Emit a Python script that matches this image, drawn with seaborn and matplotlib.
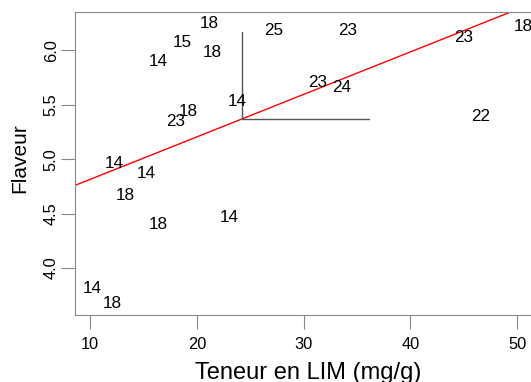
import numpy as np
import pandas as pd
import matplotlib
matplotlib.use("Agg")
import matplotlib.pyplot as plt
import seaborn as sns

# LIM content (mg/g), flavour score and the label printed at each sample
lim = [21.17, 18.61, 21.43, 16.41, 23.74, 19.23, 17.98, 12.25, 15.26, 13.29,
       16.36, 23.05, 10.22, 12.09, 27.21, 34.07, 45.02, 50.61, 31.34, 33.54, 46.59]
flaveur = [6.246, 6.076, 5.979, 5.896, 5.533, 5.436, 5.343, 4.965, 4.866, 4.666,
           4.403, 4.464, 3.813, 3.675, 6.184, 6.178, 6.117, 6.215, 5.702, 5.656, 5.389]
etiquettes = ["18", "15", "18", "14", "14", "18", "23", "14", "14", "18",
              "18", "14", "14", "18", "25", "23", "23", "18", "23", "24", "22"]

x_ticks = [10, 20, 30, 40, 50]
y_ticks = [4.0, 4.5, 5.0, 5.5, 6.0]
y_ticklabels = ["4.0", "4.5", "5.0", "5.5", "6.0"]

df = pd.DataFrame({"lim": lim, "flaveur": flaveur, "lab": etiquettes})

sns.set_style("white")
plt.rcParams["font.family"] = ["Liberation Sans", "DejaVu Sans"]
plt.rcParams["text.color"] = "black"
plt.rcParams["axes.labelcolor"] = "black"

fig = plt.figure(figsize=(5.31, 3.82), dpi=100)
ax = fig.add_axes([0.1418, 0.1762, 0.877, 0.7916])

# R-style 4% padding around the data range
xr = max(lim) - min(lim)
yr = max(flaveur) - min(flaveur)
xlim = (min(lim) - 0.04 * xr, max(lim) + 0.04 * xr)
ylim = (min(flaveur) - 0.04 * yr, max(flaveur) + 0.04 * yr)
ax.set_xlim(xlim)
ax.set_ylim(ylim)

# least-squares line across the full plotting range
sns.regplot(data=df, x="lim", y="flaveur", scatter=False, ci=None, truncate=False,
            color="red", line_kws={"lw": 1.0}, ax=ax)

# labels placed at each sample's coordinates
for _, r in df.iterrows():
    ax.text(r["lim"], r["flaveur"], r["lab"], ha="center", va="center",
            fontsize=12.3, color="black")

# mean point with one standard deviation along each axis
mx, my = np.mean(lim), np.mean(flaveur)
sx, sy = np.std(lim, ddof=1), np.std(flaveur, ddof=1)
ax.plot([mx, mx + sx], [my, my], color="#555555", lw=1.0)
ax.plot([mx, mx], [my, my + sy], color="#555555", lw=1.0)

ax.set_xlim(xlim)
ax.set_ylim(ylim)

ax.set_xticks(x_ticks)
ax.set_yticks(y_ticks)
ax.set_yticklabels(y_ticklabels, rotation=90, va="center")
ax.tick_params(axis="both", direction="out", length=10, width=0.8,
               color="#888888", labelsize=11.8, labelcolor="black",
               bottom=True, left=True)
ax.tick_params(axis="x", pad=6)
ax.tick_params(axis="y", pad=2)

for s in ax.spines.values():
    s.set_color("#888888")
    s.set_linewidth(0.8)

ax.set_xlabel("Teneur en LIM (mg/g)", fontsize=17)
ax.set_ylabel("Flaveur", fontsize=15)
ax.xaxis.set_label_coords(0.5, -0.155)
ax.yaxis.set_label_coords(-0.099, 0.518)

fig.savefig("out.png", dpi=100)
